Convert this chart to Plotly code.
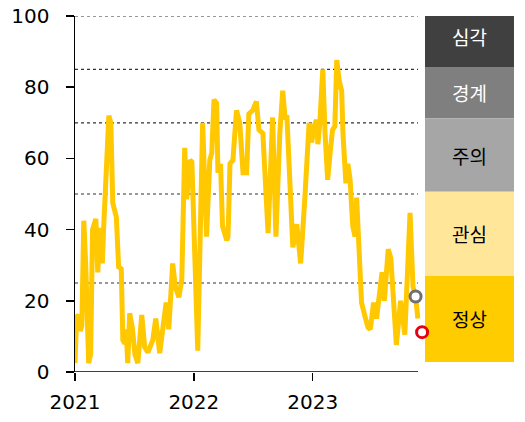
import plotly.graph_objects as go

# ---- data ----
dates = [
    "2021-01-01", "2021-01-06", "2021-01-12", "2021-01-17", "2021-01-22", "2021-01-28",
    "2021-02-03", "2021-02-12", "2021-02-18", "2021-02-24", "2021-03-06", "2021-03-12",
    "2021-03-18", "2021-03-26", "2021-03-30", "2021-04-07", "2021-04-15", "2021-04-21",
    "2021-04-27", "2021-05-08", "2021-05-15", "2021-05-23", "2021-05-28", "2021-06-03",
    "2021-06-07", "2021-06-12", "2021-06-18", "2021-06-26", "2021-07-04", "2021-07-13",
    "2021-07-25", "2021-08-03", "2021-08-13", "2021-08-28", "2021-09-06", "2021-09-18",
    "2021-09-28", "2021-10-08", "2021-10-16", "2021-10-22", "2021-10-28", "2021-11-05",
    "2021-11-16", "2021-11-25", "2021-11-30", "2021-12-04", "2021-12-10", "2021-12-20",
    "2021-12-26", "2022-01-13", "2022-01-28", "2022-02-09", "2022-02-19", "2022-02-25",
    "2022-03-04", "2022-03-12", "2022-03-16", "2022-03-24", "2022-03-30", "2022-04-12",
    "2022-04-16", "2022-04-22", "2022-05-01", "2022-05-12", "2022-05-22", "2022-06-01",
    "2022-06-12", "2022-06-19", "2022-07-01", "2022-07-12", "2022-07-20", "2022-08-01",
    "2022-08-17", "2022-08-31", "2022-09-10", "2022-09-22", "2022-10-01", "2022-10-08",
    "2022-10-14", "2022-11-01", "2022-11-13", "2022-11-25", "2022-12-08", "2022-12-21",
    "2022-12-29", "2023-01-05", "2023-01-13", "2023-01-17", "2023-01-23", "2023-02-01",
    "2023-02-08", "2023-02-16", "2023-02-25", "2023-03-03", "2023-03-10", "2023-03-16",
    "2023-03-23", "2023-03-31", "2023-04-04", "2023-04-13", "2023-04-19", "2023-04-26",
    "2023-05-04", "2023-05-11", "2023-05-16", "2023-05-20", "2023-05-31", "2023-06-11",
    "2023-06-20", "2023-06-27", "2023-07-07", "2023-07-16", "2023-08-02", "2023-08-09",
    "2023-08-21", "2023-08-29", "2023-09-15", "2023-09-28", "2023-10-11", "2023-10-27",
    "2023-11-05", "2023-11-13", "2023-11-20",
]
values = [
    2.5, 15.5, 16, 11.5, 13, 42.5,
    30, 2.5, 5, 40, 43, 28,
    40.5, 30.5, 40.5, 57.5, 72, 70,
    47.5, 43.5, 29.5, 29, 9, 8,
    12, 2.5, 16.5, 12.5, 5, 2.5,
    16, 7, 5.5, 9, 15, 5.3,
    12.5, 19.5, 12, 20, 30.5, 24,
    21, 26, 50, 63, 48.5, 59.5,
    59, 6, 70, 38, 59.5, 61.5,
    76.5, 75.5, 56, 58.5, 41, 37,
    38, 58.5, 59.5, 73.5, 70, 56,
    56, 72.5, 73.5, 76, 68, 67,
    39, 71.5, 38, 67, 79, 71.5,
    71.5, 35, 41.5, 30.5, 49, 70,
    64.5, 69, 70.8, 64, 70, 85,
    67, 54, 63, 68, 69, 87.6,
    82, 79, 67, 53, 58.5, 54,
    41, 38, 49, 39, 19.5, 15.5,
    12.5, 12, 19.5, 15, 28, 20,
    34.5, 32, 7.6, 20, 10.5, 44.7,
    24, 21.2, 15,
]

gray_point = ("2023-11-13", 21.2)
red_point = ("2023-12-03", 11.2)

thresholds = [25, 50, 70, 85, 100]
levels = ["심각", "경계", "주의", "관심", "정상"]
level_colors = ["#404040", "#7f7f7f", "#a6a6a6", "#ffe699", "#ffcc00"]
level_text_colors = ["white", "white", "black", "black", "black"]
level_bounds = [(85.7, 102.8), (71.3, 85.7), (50.6, 71.3), (27.0, 50.6), (2.8, 27.0)]

tick_years = ["2021-01-01", "2022-01-01", "2023-01-01"]
tick_labels = ["2021", "2022", "2023"]

LINE = "#ffc800"
AXIS_END = 0.9397   # paper fraction where the drawn x-axis line / dotted lines stop

fig = go.Figure()

fig.add_trace(go.Scatter(
    x=dates, y=values, mode="lines",
    line=dict(color=LINE, width=5), showlegend=False, hoverinfo="skip",
))
fig.add_trace(go.Scatter(
    x=[gray_point[0]], y=[gray_point[1]], mode="markers",
    marker=dict(size=11, color="white", line=dict(color="#707070", width=3)),
    showlegend=False, cliponaxis=False,
))
fig.add_trace(go.Scatter(
    x=[red_point[0]], y=[red_point[1]], mode="markers",
    marker=dict(size=11, color="white", line=dict(color="#e60012", width=3)),
    showlegend=False, cliponaxis=False,
))

shapes = []
for t in thresholds:
    shapes.append(dict(type="line", xref="paper", yref="y", x0=0, x1=AXIS_END, y0=t, y1=t,
                       line=dict(color="#333333", width=1.2, dash="dot"), layer="below"))
# x axis baseline
shapes.append(dict(type="line", xref="paper", yref="y", x0=0, x1=AXIS_END, y0=0, y1=0,
                   line=dict(color="black", width=1.5), layer="below"))
annotations = []
for name, col, tcol, (lo, hi) in zip(levels, level_colors, level_text_colors, level_bounds):
    shapes.append(dict(type="rect", xref="paper", yref="y", x0=0.9589, x1=1.2027,
                       y0=lo, y1=hi, fillcolor=col, line=dict(width=0), layer="below"))
    annotations.append(dict(xref="paper", yref="y", x=1.0808, y=(lo + hi) / 2, text=name,
                            showarrow=False, xanchor="center", yanchor="middle",
                            font=dict(family="Noto Sans CJK KR", size=19, color=tcol)))

fig.update_layout(
    width=525, height=422,
    margin=dict(l=75, r=85, t=16, b=50),
    paper_bgcolor="white", plot_bgcolor="rgba(0,0,0,0)",
    shapes=shapes, annotations=annotations,
    font=dict(family="DejaVu Sans", size=20, color="black"),
    xaxis=dict(
        type="date", range=["2021-01-01", "2024-01-27"],
        tickvals=tick_years, ticktext=tick_labels,
        showgrid=False, zeroline=False, automargin=False,
        showline=False,
        ticks="outside", ticklen=8, tickwidth=1.5, tickcolor="black",
        ticklabelstandoff=4, ticklabeloverflow="allow",
        tickfont=dict(family="DejaVu Sans", size=20),
    ),
    yaxis=dict(
        range=[0, 100], tickvals=[0, 20, 40, 60, 80, 100],
        showgrid=False, zeroline=False, automargin=False,
        showline=True, linecolor="black", linewidth=1.5,
        ticks="outside", ticklen=8, tickwidth=1.5, tickcolor="black",
        ticklabelstandoff=12, ticklabeloverflow="allow",
        tickfont=dict(family="DejaVu Sans", size=20),
    ),
)

fig.write_html("out.html",
               config={"displayModeBar": False, "staticPlot": True},
               post_script="document.body.style.margin='0';document.body.style.overflow='hidden';")
